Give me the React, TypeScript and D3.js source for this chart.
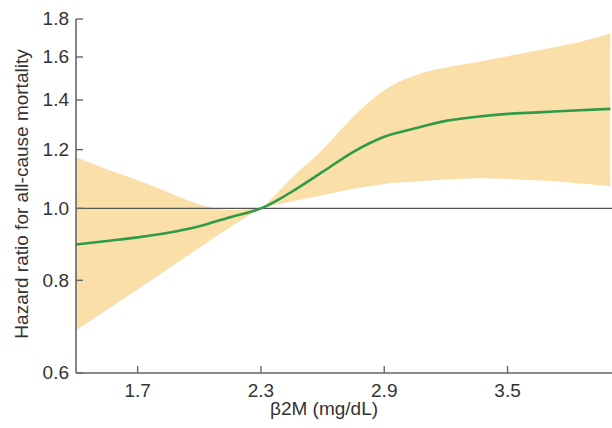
import React from "react";
import * as d3 from "d3";

const xs = [1.4, 1.55, 1.7, 1.85, 2.0, 2.15, 2.3, 2.35, 2.4, 2.45, 2.6, 2.75, 2.9, 3.05, 3.2, 3.35, 3.5, 3.65, 3.8, 4.0];
const hr = [0.894, 0.904, 0.914, 0.927, 0.946, 0.973, 1.0, 1.015, 1.033, 1.053, 1.12, 1.192, 1.249, 1.282, 1.312, 1.329, 1.341, 1.347, 1.354, 1.362];
const upper = [1.172, 1.129, 1.091, 1.051, 1.012, 0.995, 1.003, 1.03, 1.064, 1.1, 1.2, 1.33, 1.443, 1.512, 1.549, 1.574, 1.604, 1.634, 1.664, 1.721];
const lower = [0.685, 0.73, 0.778, 0.83, 0.885, 0.943, 0.997, 1.008, 1.015, 1.022, 1.042, 1.063, 1.079, 1.087, 1.094, 1.098, 1.096, 1.091, 1.084, 1.071];

const xTicks = [1.7, 2.3, 2.9, 3.5];
const yTicks = [0.6, 0.8, 1.0, 1.2, 1.4, 1.6, 1.8];

const W = 612;
const H = 428;
const FONT = "'Liberation Sans', Arial, sans-serif";

export default function App() {
  const x = d3.scaleLinear().domain([1.4, 4.0]).range([76, 610.3]);
  const y = d3.scaleLog().domain([0.6, 1.8]).range([373, 19]);

  const rows = xs.map((v, i) => ({ x: v, hr: hr[i], lo: lower[i], hi: upper[i] }));

  const area = d3
    .area<any>()
    .x((d) => x(d.x))
    .y0((d) => y(d.lo))
    .y1((d) => y(d.hi))
    .curve(d3.curveMonotoneX);
  const line = d3
    .line<any>()
    .x((d) => x(d.x))
    .y((d) => y(d.hr))
    .curve(d3.curveMonotoneX);

  const axisColor = "#666";
  const x0 = 76;
  const y0 = 373;

  return (
    <svg
      width={W}
      height={H}
      style={{ position: "absolute", left: 0, top: 0 }}
      fontFamily={FONT}
    >
      <defs>
        <clipPath id="plot">
          <rect x={x0} y={0} width={W - x0} height={y0} />
        </clipPath>
      </defs>
      <rect x={0} y={0} width={W} height={H} fill="#fff" />
      <g clipPath="url(#plot)">
        <path d={area(rows) || ""} fill="#fbdfa9" />
        <line x1={x0} x2={W} y1={y(1)} y2={y(1)} stroke="#555" strokeWidth={1.2} />
        <path d={line(rows) || ""} fill="none" stroke="#2f9a48" strokeWidth={2.6} />
      </g>
      <line x1={x0} x2={x0} y1={y(1.8)} y2={y0} stroke={axisColor} strokeWidth={1.6} />
      <line x1={x0} x2={W} y1={y0} y2={y0} stroke={axisColor} strokeWidth={1.6} />
      {yTicks.map((t) => (
        <g key={"y" + t}>
          <line x1={x0} x2={x0 + 7} y1={y(t)} y2={y(t)} stroke={axisColor} strokeWidth={1.4} />
          <text x={69} y={y(t)} dy="0.34em" textAnchor="end" fontSize={19} fill="#333">
            {t.toFixed(1)}
          </text>
        </g>
      ))}
      {xTicks.map((t) => (
        <g key={"x" + t}>
          <line x1={x(t)} x2={x(t)} y1={y0} y2={y0 - 7} stroke={axisColor} strokeWidth={1.4} />
          <text x={x(t)} y={397} textAnchor="middle" fontSize={19} fill="#333">
            {t.toFixed(1)}
          </text>
        </g>
      ))}
      <text x={324} y={415} textAnchor="middle" fontSize={19} fill="#333">
        β2M (mg/dL)
      </text>
      <text
        transform={`translate(27.5, 194) rotate(-90)`}
        textAnchor="middle"
        fontSize={19}
        fill="#333"
      >
        Hazard ratio for all-cause mortality
      </text>
    </svg>
  );
}
